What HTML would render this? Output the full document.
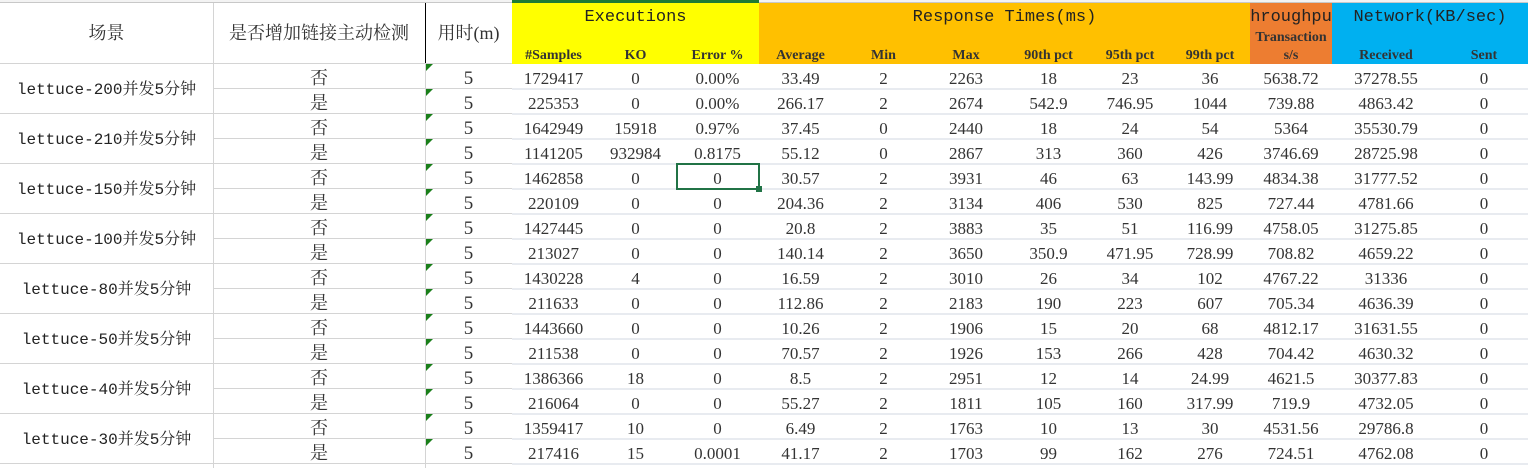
<!DOCTYPE html>
<html><head><meta charset="utf-8"><style>
body{margin:0;width:1528px;height:468px;overflow:hidden;background:#fff;position:relative;font-family:"Liberation Serif","Noto Serif CJK SC",serif;color:#333}
.a{position:absolute;box-sizing:border-box}
.c{position:absolute;text-align:center;font-size:17px;line-height:25px;height:25px}
.h{position:absolute;text-align:center;font-weight:bold;font-size:14px;color:#333;font-family:"Liberation Serif",serif}
.m{font-family:"Liberation Mono","Noto Serif CJK SC",monospace}
.tri{position:absolute;width:0;height:0;border-top:7px solid #1a7f1a;border-right:7px solid transparent}
</style></head><body>
<div class="a" style="left:0;top:0;width:1528px;height:3px;border-bottom:1px solid #c8c8c8;background:#f3f3f3"></div>
<div class="a" style="left:512px;top:3px;width:247px;height:61px;background:#ffff00"></div>
<div class="a" style="left:759px;top:3px;width:491px;height:61px;background:#ffc000"></div>
<div class="a" style="left:1250px;top:3px;width:82px;height:61px;background:#ed7d31"></div>
<div class="a" style="left:1332px;top:3px;width:196px;height:61px;background:#00b0f0"></div>
<div class="a" style="left:512px;top:0;width:247px;height:3px;background:#1e7b34"></div>
<div class="c m" style="left:512px;top:5px;width:247px;font-size:17px;color:#222">Executions</div>
<div class="c m" style="left:759px;top:5px;width:491px;font-size:17px;color:#222">Response Times(ms)</div>
<div class="c m" style="left:1250px;top:5px;width:82px;font-size:17px;color:#222;overflow:hidden;white-space:nowrap">hroughpu</div>
<div class="c m" style="left:1332px;top:5px;width:196px;font-size:17px;color:#222">Network(KB/sec)</div>
<div class="c" style="left:0;top:21px;width:213px;font-size:18px">场景</div>
<div class="c" style="left:213px;top:21px;width:212px;font-size:18px">是否增加链接主动检测</div>
<div class="c" style="left:425px;top:21px;width:87px;font-size:18px">用时(m)</div>
<div class="a" style="left:425px;top:3px;width:1px;height:61px;background:#000"></div>
<div class="a" style="left:213px;top:3px;width:1px;height:465px;background:#d4d4d4"></div>
<div class="a" style="left:425px;top:64px;width:1px;height:404px;background:#d4d4d4"></div>
<div class="a" style="left:0;top:63px;width:512px;height:1px;background:#d4d4d4"></div>
<div id="rows"></div>
<div class="a" style="left:676px;top:163px;width:84px;height:27px;border:2px solid #217346"></div>
<div class="a" style="left:756px;top:186px;width:6px;height:6px;background:#217346"></div>
<script>
var cols=[[512,595],[595,676],[676,759],[759,842],[842,925],[925,1007],[1007,1090],[1090,1170],[1170,1250],[1250,1332],[1332,1440],[1440,1528]];
var hdr=['#Samples','KO','Error %','Average','Min','Max','90th pct','95th pct','99th pct','s/s','Received','Sent'];
var s='';
hdr.forEach(function(t,i){s+='<div class="h" style="left:'+cols[i][0]+'px;top:48px;width:'+(cols[i][1]-cols[i][0])+'px">'+t+'</div>';});
s+='<div class="h" style="left:1250px;top:30px;width:82px">Transaction</div>';
var d=[
['1729417','0','0.00%','33.49','2','2263','18','23','36','5638.72','37278.55','0'],
['225353','0','0.00%','266.17','2','2674','542.9','746.95','1044','739.88','4863.42','0'],
['1642949','15918','0.97%','37.45','0','2440','18','24','54','5364','35530.79','0'],
['1141205','932984','0.8175','55.12','0','2867','313','360','426','3746.69','28725.98','0'],
['1462858','0','0','30.57','2','3931','46','63','143.99','4834.38','31777.52','0'],
['220109','0','0','204.36','2','3134','406','530','825','727.44','4781.66','0'],
['1427445','0','0','20.8','2','3883','35','51','116.99','4758.05','31275.85','0'],
['213027','0','0','140.14','2','3650','350.9','471.95','728.99','708.82','4659.22','0'],
['1430228','4','0','16.59','2','3010','26','34','102','4767.22','31336','0'],
['211633','0','0','112.86','2','2183','190','223','607','705.34','4636.39','0'],
['1443660','0','0','10.26','2','1906','15','20','68','4812.17','31631.55','0'],
['211538','0','0','70.57','2','1926','153','266','428','704.42','4630.32','0'],
['1386366','18','0','8.5','2','2951','12','14','24.99','4621.5','30377.83','0'],
['216064','0','0','55.27','2','1811','105','160','317.99','719.9','4732.05','0'],
['1359417','10','0','6.49','2','1763','10','13','30','4531.56','29786.8','0'],
['217416','15','0.0001','41.17','2','1703','99','162','276','724.51','4762.08','0']];
var sc=['200','210','150','100','80','50','40','30'];
d.forEach(function(r,k){var y=64+25*k;
 s+='<div class="c" style="left:213px;top:'+(y+2)+'px;width:212px;font-size:18px">'+(k%2?'是':'否')+'</div>';
 s+='<div class="c" style="left:425px;top:'+(y+2)+'px;width:87px;font-size:19px">5</div>';
 s+='<div class="tri" style="left:426px;top:'+y+'px"></div>';
 r.forEach(function(t,i){s+='<div class="c" style="left:'+cols[i][0]+'px;top:'+(y+2)+'px;width:'+(cols[i][1]-cols[i][0])+'px">'+t+'</div>';});
 s+='<div class="a" style="left:213px;top:'+(y+24)+'px;width:299px;height:1px;background:#d4d4d4"></div>';
 s+='<div class="a" style="left:512px;top:'+(y+24)+'px;width:1016px;height:2px;background:#e8ebf0"></div>';
 if(k%2==0){s+='<div class="c m" style="left:0;top:'+(y+14)+'px;width:213px;font-size:16px;color:#222">lettuce-'+sc[k/2]+'并发5分钟</div>';
 s+='<div class="a" style="left:0;top:'+(y+49)+'px;width:213px;height:1px;background:#d4d4d4"></div>';}
});
document.getElementById('rows').outerHTML=s;
</script>
</body></html>
